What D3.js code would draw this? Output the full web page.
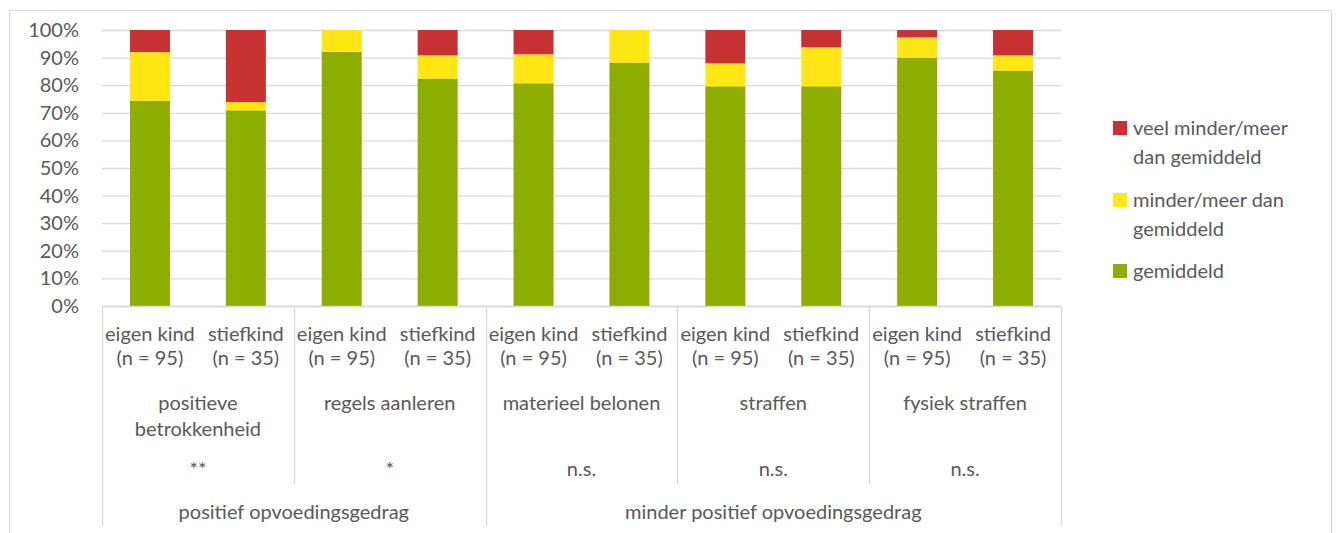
<!DOCTYPE html>
<html>
<head>
<meta charset="utf-8">
<script src="https://cdn.jsdelivr.net/npm/d3@7"></script>
<style>
  body { margin: 0; background: #fff; }
  text { font-family: Lato, "Open Sans", sans-serif; fill: #595959; }
</style>
</head>
<body>
<div id="chart"></div>
<script>
// data
var groups = [["positieve", "betrokkenheid"], ["regels aanleren"], ["materieel belonen"], ["straffen"], ["fysiek straffen"]];
var significance = ["**", "*", "n.s.", "n.s.", "n.s."];
var subLabels = ["eigen kind", "stiefkind"];
var nLabels = ["(n = 95)", "(n = 35)"];
var topGroups = ["positief opvoedingsgedrag", "minder positief opvoedingsgedrag"];
var topGroupSpan = [2, 3]; // number of groups under each top group

var gemiddeld = [74.4, 70.9, 92.1, 82.4, 80.7, 88.2, 79.6, 79.6, 90.0, 85.3];
var minderMeer = [17.6, 3.0, 7.9, 8.4, 10.5, 11.8, 8.3, 14.1, 7.3, 5.5];
var veelMinderMeer = [8.0, 26.1, 0, 9.2, 8.8, 0, 12.1, 6.3, 2.7, 9.2];

var seriesNames = ["gemiddeld", "minder/meer dan gemiddeld", "veel minder/meer dan gemiddeld"];
var colors = ["#8DAE00", "#FFE614", "#C83232"];
var yTicks = [0, 10, 20, 30, 40, 50, 60, 70, 80, 90, 100];

var width = 1338, height = 533;
var plotLeft = 102, plotRight = 1061, plotTop = 30, plotBottom = 306;
var fs = 20;

var svg = d3.select("#chart").append("svg")
    .attr("width", width)
    .attr("height", height);

// outer chart border
svg.append("rect")
    .attr("x", 9.5).attr("y", 10.5)
    .attr("width", 1322).attr("height", 560)
    .attr("fill", "none").attr("stroke", "#d9d9d9");

var rows = gemiddeld.map(function(d, i) {
    return { i: i, g: d, m: minderMeer[i], v: veelMinderMeer[i] };
});

var x = d3.scaleBand()
    .domain(d3.range(rows.length))
    .range([plotLeft, plotRight])
    .paddingInner(0.583)
    .paddingOuter(0.2915);

var y = d3.scaleLinear().domain([0, 100]).range([plotBottom, plotTop]);

// gridlines and y labels
var yAxis = svg.append("g")
    .attr("transform", "translate(" + plotLeft + ",0)")
    .call(d3.axisLeft(y).tickValues(yTicks).tickSize(-(plotRight - plotLeft))
        .tickPadding(23).tickFormat(function(d) { return d + "%"; }));
yAxis.select(".domain").remove();
yAxis.selectAll("line").attr("stroke", "#d9d9d9").attr("stroke-width", 1.3);
yAxis.selectAll("text").attr("font-size", fs).attr("fill", "#595959")
    .attr("font-family", "Lato, sans-serif");

// stacked bars
var stack = d3.stack().keys(["g", "m", "v"]);
var layers = stack(rows);

svg.append("g").selectAll("g")
    .data(layers)
    .join("g")
    .attr("fill", function(d, k) { return colors[k]; })
    .selectAll("rect")
    .data(function(d) { return d; })
    .join("rect")
    .attr("x", function(d) { return x(d.data.i); })
    .attr("width", x.bandwidth())
    .attr("y", function(d) { return y(d[1]); })
    .attr("height", function(d) { return y(d[0]) - y(d[1]); });

// x axis line
svg.append("line")
    .attr("x1", plotLeft).attr("x2", plotRight)
    .attr("y1", plotBottom + 0.5).attr("y2", plotBottom + 0.5)
    .attr("stroke", "#d9d9d9").attr("stroke-width", 1.3);

// category labels
var cat = svg.append("g").attr("font-size", fs).attr("text-anchor", "middle");
rows.forEach(function(r) {
    var cx = x(r.i) + x.bandwidth() / 2;
    cat.append("text").attr("x", cx).attr("y", 341).text(subLabels[r.i % 2]);
    cat.append("text").attr("x", cx).attr("y", 365).text(nLabels[r.i % 2]);
});

// group labels and separators
var groupW = x.step() * 2;
groups.forEach(function(lines, gi) {
    var gx = plotLeft + groupW * gi + groupW / 2;
    lines.forEach(function(t, li) {
        cat.append("text").attr("x", gx).attr("y", 410 + li * 26).text(t);
    });
    cat.append("text").attr("x", gx).attr("y", 476).text(significance[gi]);
});

var sep = svg.append("g").attr("stroke", "#d9d9d9").attr("stroke-width", 1.3);
var topBounds = [0];
topGroupSpan.reduce(function(a, s) { topBounds.push(a + s); return a + s; }, 0);
d3.range(groups.length + 1).forEach(function(k) {
    var sx = Math.round(plotLeft + groupW * k) + 0.5;
    var full = topBounds.indexOf(k) >= 0;
    sep.append("line").attr("x1", sx).attr("x2", sx)
        .attr("y1", plotBottom).attr("y2", full ? 526 : 484);
});

topGroups.forEach(function(t, ti) {
    var x0 = plotLeft + groupW * topBounds[ti], x1 = plotLeft + groupW * topBounds[ti + 1];
    cat.append("text").attr("x", (x0 + x1) / 2).attr("y", 519).text(t);
});

// legend
var legendItems = [
    { c: colors[2], lines: ["veel minder/meer", "dan gemiddeld"], y: 128 },
    { c: colors[1], lines: ["minder/meer dan", "gemiddeld"], y: 200 },
    { c: colors[0], lines: ["gemiddeld"], y: 271 }
];
var lg = svg.append("g").attr("font-size", fs);
legendItems.forEach(function(it) {
    lg.append("rect").attr("x", 1113).attr("y", it.y - 7).attr("width", 14).attr("height", 14)
        .attr("fill", it.c);
    it.lines.forEach(function(t, li) {
        lg.append("text").attr("x", 1133).attr("y", it.y + 7 + li * 29).text(t);
    });
});
</script>
</body>
</html>
